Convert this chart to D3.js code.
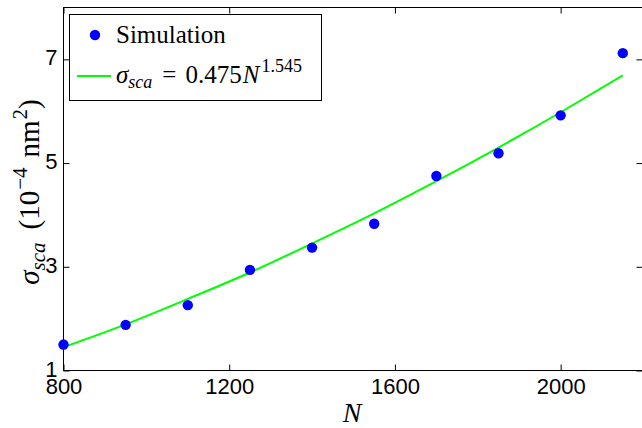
<!DOCTYPE html>
<meta charset="utf-8">
<head>
<title>sigma_sca vs N</title>
<style>
  body { margin: 0; background: #fff; }
  .tick text { font-family: "Liberation Sans", Arial, sans-serif; font-size: 22px; fill: #000; }
  .axis path { display: none; }
  .axis line { stroke: #000; }
  .tex { font-family: "Liberation Serif", "DejaVu Serif", serif; fill: #000; }
</style>
</head>
<body>
<svg width="642" height="428"></svg>
<script src="https://d3js.org/d3.v7.min.js"></script>
<script>
// data
var simN     = [800, 950, 1100, 1250, 1400, 1550, 1700, 1850, 2000, 2150];
var simSigma = [1.50, 1.88, 2.26, 2.94, 3.37, 3.83, 4.75, 5.19, 5.92, 7.12];
var fitN     = [800, 950, 1100, 1250, 1400, 1550, 1700, 1850, 2000, 2150];
var fitSigma = [1.45, 1.89, 2.38, 2.89, 3.45, 4.03, 4.65, 5.30, 5.98, 6.69];
var xTicks = [800, 1200, 1600, 2000];
var yTicks = [1, 3, 5, 7];

var svg = d3.select("svg"),
    pLeft = 63.5, pRight = 643.5, pTop = 7.5, pBottom = 370.5;

var x = d3.scaleLinear().domain([800, 2200]).range([pLeft, pRight]);
var y = d3.scaleLinear().domain([1, 8]).range([pBottom, pTop]);

// frame
svg.append("rect")
    .attr("x", pLeft).attr("y", pTop)
    .attr("width", pRight - pLeft).attr("height", pBottom - pTop)
    .attr("fill", "none").attr("stroke", "#000").attr("stroke-width", 1);

svg.append("g").attr("class", "axis")
    .attr("transform", "translate(0," + pBottom + ")")
    .call(d3.axisBottom(x).tickValues(xTicks).tickFormat(d3.format("d"))
        .tickSizeInner(-6).tickSizeOuter(0).tickPadding(8));
svg.append("g").attr("class", "axis")
    .attr("transform", "translate(0," + pTop + ")")
    .call(d3.axisTop(x).tickValues(xTicks).tickSizeInner(-6).tickSizeOuter(0).tickFormat(""));
svg.append("g").attr("class", "axis y")
    .attr("transform", "translate(" + pLeft + ",0)")
    .call(d3.axisLeft(y).tickValues(yTicks).tickFormat(d3.format("d"))
        .tickSizeInner(-6).tickSizeOuter(0).tickPadding(6));
svg.selectAll(".axis.y .tick text").attr("dy", "0.25em");
svg.append("g").attr("class", "axis")
    .attr("transform", "translate(" + (pRight - 1) + ",0)")
    .call(d3.axisRight(y).tickValues(yTicks).tickSizeInner(-6).tickSizeOuter(0).tickFormat(""));

// fit curve
var fit = fitN.map(function(n, i) { return [n, fitSigma[i]]; });
var line = d3.line()
    .x(function(d) { return x(d[0]); })
    .y(function(d) { return y(d[1]); })
    .curve(d3.curveNatural);
svg.append("path")
    .datum(fit)
    .attr("fill", "none")
    .attr("stroke", "#00ff00")
    .attr("stroke-width", 2)
    .attr("d", line);

// simulation points
svg.append("g").selectAll("circle")
    .data(simN)
    .enter().append("circle")
    .attr("cx", function(d) { return x(d); })
    .attr("cy", function(d, i) { return y(simSigma[i]); })
    .attr("r", 5.2)
    .attr("fill", "#0000ff");

// axis labels
svg.append("text").attr("class", "tex")
    .attr("x", 352).attr("y", 422)
    .attr("text-anchor", "middle")
    .attr("font-size", 28).attr("font-style", "italic")
    .text("N");

var yl = svg.append("text").attr("class", "tex")
    .attr("transform", "translate(39,192) rotate(-90)")
    .attr("text-anchor", "middle")
    .attr("font-size", 29);
yl.append("tspan").attr("font-style", "italic").text("σ");
yl.append("tspan").attr("font-style", "italic").attr("font-size", 21).attr("dy", 6).text("sca");
yl.append("tspan").attr("dy", -6).attr("dx", 13).text("(10");
yl.append("tspan").attr("font-size", 21).attr("dy", -12).attr("dx", 1).text("−4");
yl.append("tspan").attr("dy", 12).attr("dx", 10).text("nm");
yl.append("tspan").attr("font-size", 21).attr("dy", -12).attr("dx", 1).text("2");
yl.append("tspan").attr("dy", 12).text(")");

// legend
var lg = svg.append("g");
lg.append("rect")
    .attr("x", 69.5).attr("y", 14.5).attr("width", 252).attr("height", 86)
    .attr("fill", "#fff").attr("stroke", "#000").attr("stroke-width", 1);
lg.append("circle").attr("cx", 95).attr("cy", 35).attr("r", 5.2).attr("fill", "#0000ff");
lg.append("text").attr("class", "tex")
    .attr("x", 116).attr("y", 43).attr("font-size", 25)
    .text("Simulation");
lg.append("line")
    .attr("x1", 77).attr("x2", 111).attr("y1", 76).attr("y2", 76)
    .attr("stroke", "#00ff00").attr("stroke-width", 2);
var lt = lg.append("text").attr("class", "tex")
    .attr("x", 116).attr("y", 83).attr("font-size", 25);
lt.append("tspan").attr("font-style", "italic").text("σ");
lt.append("tspan").attr("font-style", "italic").attr("font-size", 18).attr("dy", 5).text("sca");
lt.append("tspan").attr("dy", -5).attr("dx", 10).text("=");
lt.append("tspan").attr("dx", 9).text("0.475");
lt.append("tspan").attr("font-style", "italic").attr("dx", 1).text("N");
lt.append("tspan").attr("font-size", 18).attr("dy", -11).attr("dx", 2).text("1.545");
</script>
</body>
